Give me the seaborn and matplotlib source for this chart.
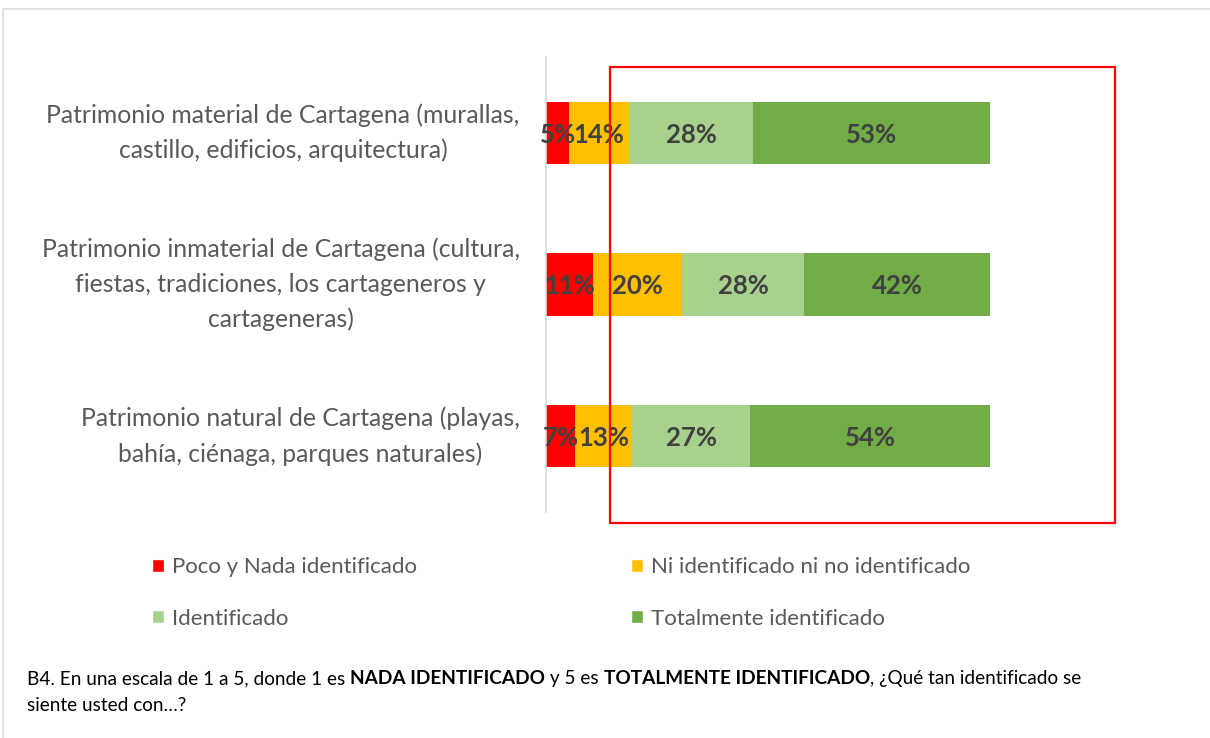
import pandas as pd
import matplotlib.pyplot as plt
import seaborn as sns
from matplotlib.patches import Patch, Rectangle

# data (percent of respondents)
categorias = [
    "Patrimonio material de Cartagena (murallas,\ncastillo, edificios, arquitectura)",
    "Patrimonio inmaterial de Cartagena (cultura,\nfiestas, tradiciones, los cartageneros y\ncartageneras)",
    "Patrimonio natural de Cartagena (playas,\nbahía, ciénaga, parques naturales)",
]
poco = [5.2, 10.6, 6.6]
ni = [13.6, 20.0, 12.8]
ident = [27.8, 27.6, 26.6]
total = [53.4, 41.8, 54.0]

series = ["Poco y Nada identificado", "Ni identificado ni no identificado",
          "Identificado", "Totalmente identificado"]
colores = ["#FF0000", "#FFC000", "#A9D18E", "#70AD47"]

sns.set_theme(style="white")
plt.rcParams['font.family'] = ['Lato', 'DejaVu Sans']

W, H = 1210, 738
def px(x):
    return x / W
def py(y):
    return 1 - y / H

fig = plt.figure(figsize=(W / 100, H / 100), dpi=100)
ax = fig.add_axes([px(546), py(512), (990 - 546) / W, (512 - 57) / H])

df = pd.DataFrame({"cat": categorias, "poco": poco, "ni": ni, "ident": ident, "total": total})
cols = ["poco", "ni", "ident", "total"]
cum = df[cols].cumsum(axis=1)

# stacked bars: draw cumulative totals from the longest down
for c, color in zip(reversed(cols), reversed(colores)):
    sns.barplot(x=cum[c], y=df["cat"], color=color, orient="h", width=0.41,
                saturation=1, ax=ax, linewidth=0)

# segment labels
for i in range(len(df)):
    start = 0
    for c in cols:
        v = df.loc[i, c]
        ax.text(start + v / 2, i, f"{v:.0f}%", ha="center", va="center_baseline",
                fontsize=18.5, fontweight="bold", color="#404040")
        start += v

ax.set_xlim(0, 100)
ax.set_ylim(2.5, -0.5)
ax.set_xlabel("")
ax.set_ylabel("")
ax.set_xticks([])
for s in ["top", "right", "bottom"]:
    ax.spines[s].set_visible(False)
ax.spines["left"].set_color("#d9d9d9")
ax.spines["left"].set_linewidth(1.2)
ax.tick_params(axis="y", length=0, pad=19, labelsize=17.8, labelcolor="#595959")
for t in ax.get_yticklabels():
    t.set_multialignment("center")
    t.set_linespacing(1.6)
    t.set_verticalalignment("center")

# legend, two columns
handles = [Patch(facecolor=c) for c in colores]
for idx, x0 in [((0, 2), 152), ((1, 3), 631)]:
    fig.legend([handles[k] for k in idx], [series[k] for k in idx],
               loc="center left", bbox_to_anchor=(px(x0), py(593)),
               frameon=False, fontsize=16, labelcolor="#595959",
               handlelength=0.55, handleheight=0.55, handletextpad=0.35,
               borderpad=0, borderaxespad=0, labelspacing=1.4)

# red highlight box
fig.add_artist(Rectangle((px(610), py(523)), (1115 - 610) / W, (523 - 67) / H,
                         transform=fig.transFigure, fill=False,
                         edgecolor="#FF0000", linewidth=1.6))
# light frame around the chart
fig.add_artist(Rectangle((px(3), py(760)), (1230 - 3) / W, (760 - 9) / H,
                         transform=fig.transFigure, fill=False,
                         edgecolor="#d9d9d9", linewidth=1.2))

# caption with bold fragments
partes = [("B4. En una escala de 1 a 5, donde 1 es ", "normal"),
          ("NADA IDENTIFICADO", "bold"),
          (" y 5 es ", "normal"),
          ("TOTALMENTE IDENTIFICADO", "bold"),
          (", ¿Qué tan identificado se", "normal")]
prev = fig.text(px(27), py(687), partes[0][0], fontsize=13.7, color="black",
                ha="left", va="bottom")
for txt, w in partes[1:]:
    prev = ax.annotate(txt, xy=(1, 0), xycoords=prev, xytext=(0, 0),
                       textcoords="offset points", ha="left", va="bottom",
                       fontsize=13.7, fontweight=w, color="black")
fig.text(px(27), py(714), "siente usted con…?", fontsize=13.7, color="black",
         ha="left", va="bottom")

fig.savefig("out.png", dpi=100)
